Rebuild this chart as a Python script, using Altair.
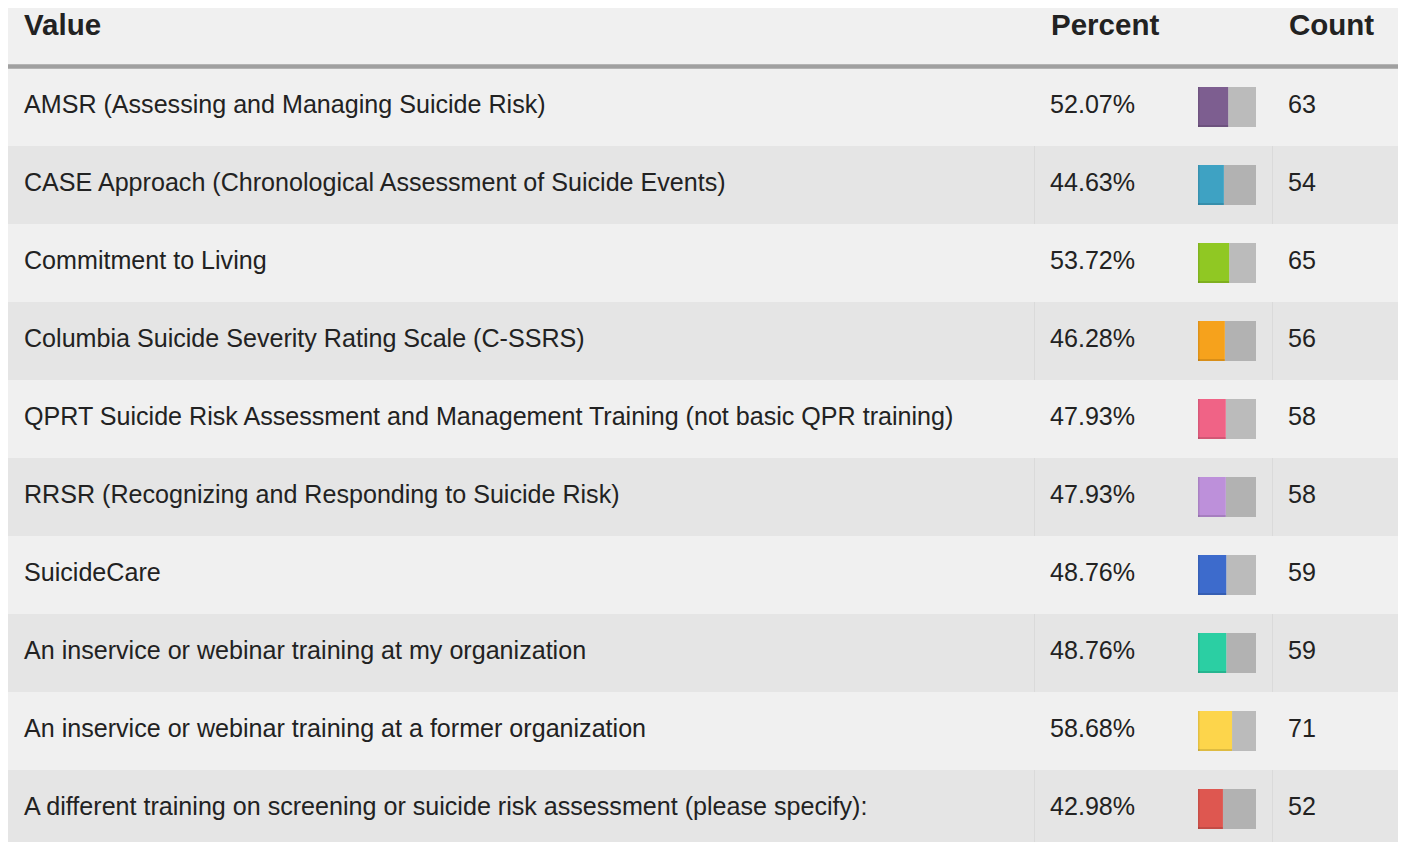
import altair as alt
import pandas as pd

labels = [
    "AMSR (Assessing and Managing Suicide Risk)",
    "CASE Approach (Chronological Assessment of Suicide Events)",
    "Commitment to Living",
    "Columbia Suicide Severity Rating Scale (C-SSRS)",
    "QPRT Suicide Risk Assessment and Management Training (not basic QPR training)",
    "RRSR (Recognizing and Responding to Suicide Risk)",
    "SuicideCare",
    "An inservice or webinar training at my organization",
    "An inservice or webinar training at a former organization",
    "A different training on screening or suicide risk assessment (please specify):",
]
percents = [52.07, 44.63, 53.72, 46.28, 47.93, 47.93, 48.76, 48.76, 58.68, 42.98]
counts = [63, 54, 65, 56, 58, 58, 59, 59, 71, 52]
colors = ["#7d5e90", "#3ea2c3", "#90c823", "#f6a21c", "#f06386",
          "#bd90da", "#3d6bcc", "#2bcfa3", "#fdd54b", "#de5750"]
headers = ["Value", "Percent", "Count"]

df = pd.DataFrame({
    "label": labels,
    "pct": percents,
    "count": counts,
    "color": colors,
    "idx": list(range(len(labels))),
})
df["pct_text"] = df["pct"].map(lambda v: f"{v:.2f}%")
df["count_text"] = df["count"].astype(str)
df["zero"] = 0
df["hundred"] = 100

FONT = "Liberation Sans"
TXT = "#222222"
W, H = 1390, 834
BODY = 25.1
HEAD = 29.5

yscale = alt.Scale(domain=labels, range=[60, 840], paddingInner=0, paddingOuter=0)
Y = alt.Y("label:O", scale=yscale, axis=None)
xbar = alt.Scale(domain=[0, 100], range=[1190, 1248])

base = alt.Chart(df)

bands = base.transform_filter("datum.idx % 2 == 1").mark_rect(color="#e5e5e5").encode(
    y=Y, x=alt.value(0), x2=alt.value(W)
)
div1 = base.transform_filter("datum.idx % 2 == 1").mark_rect(color="#dadada").encode(
    y=Y, x=alt.value(1026), x2=alt.value(1027)
)
div2 = base.transform_filter("datum.idx % 2 == 1").mark_rect(color="#dadada").encode(
    y=Y, x=alt.value(1264), x2=alt.value(1265)
)

rule = alt.Chart(pd.DataFrame({"h": [0]})).mark_rule(color="#a0a0a0", strokeWidth=4.5).encode(
    y=alt.value(58.5), x=alt.value(0), x2=alt.value(W)
)

bar_rest = base.mark_bar(height=40, color="#000000", opacity=0.22).encode(
    y=Y,
    x=alt.X("pct:Q", scale=xbar, axis=None),
    x2="hundred:Q",
)
bar_col = base.mark_bar(height=40).encode(
    y=Y,
    x=alt.X("zero:Q", scale=xbar, axis=None),
    x2="pct:Q",
    color=alt.Color("color:N", scale=None, legend=None),
)
bar_edge = base.mark_bar(height=2, yOffset=19, color="#000000", opacity=0.12).encode(
    y=Y,
    x=alt.X("zero:Q", scale=xbar, axis=None),
    x2="pct:Q",
)
bar_left = base.mark_bar(height=40, x2Offset=1.5, color="#000000", opacity=0.1).encode(
    y=Y,
    x=alt.X("zero:Q", scale=xbar, axis=None),
    x2="zero:Q",
)

body_style = dict(align="left", baseline="middle", font=FONT, fontSize=BODY, color=TXT, dy=-2)
txt_label = base.mark_text(**body_style).encode(y=Y, x=alt.value(16), text="label:N")
txt_pct = base.mark_text(**body_style).encode(y=Y, x=alt.value(1042), text="pct_text:N")
txt_cnt = base.mark_text(**body_style).encode(y=Y, x=alt.value(1280), text="count_text:N")

hdf = pd.DataFrame({"h": headers})
hbase = alt.Chart(hdf)
hdr_style = dict(align="left", baseline="middle", font=FONT, fontSize=HEAD, fontWeight="bold", color=TXT)
h1 = hbase.transform_filter(alt.datum.h == headers[0]).mark_text(**hdr_style).encode(
    x=alt.value(16), y=alt.value(18), text="h:N")
h2 = hbase.transform_filter(alt.datum.h == headers[1]).mark_text(**hdr_style).encode(
    x=alt.value(1043), y=alt.value(18), text="h:N")
h3 = hbase.transform_filter(alt.datum.h == headers[2]).mark_text(**hdr_style).encode(
    x=alt.value(1281), y=alt.value(18), text="h:N")

chart = alt.layer(
    bands, div1, div2, rule, bar_rest, bar_col, bar_edge, bar_left,
    txt_label, txt_pct, txt_cnt, h1, h2, h3,
).properties(
    width=W, height=H, padding=0, autosize="none", background="#f0f0f0"
).configure_view(stroke=None)

chart.save("out.html", embed_options={"renderer": "svg", "actions": False})
